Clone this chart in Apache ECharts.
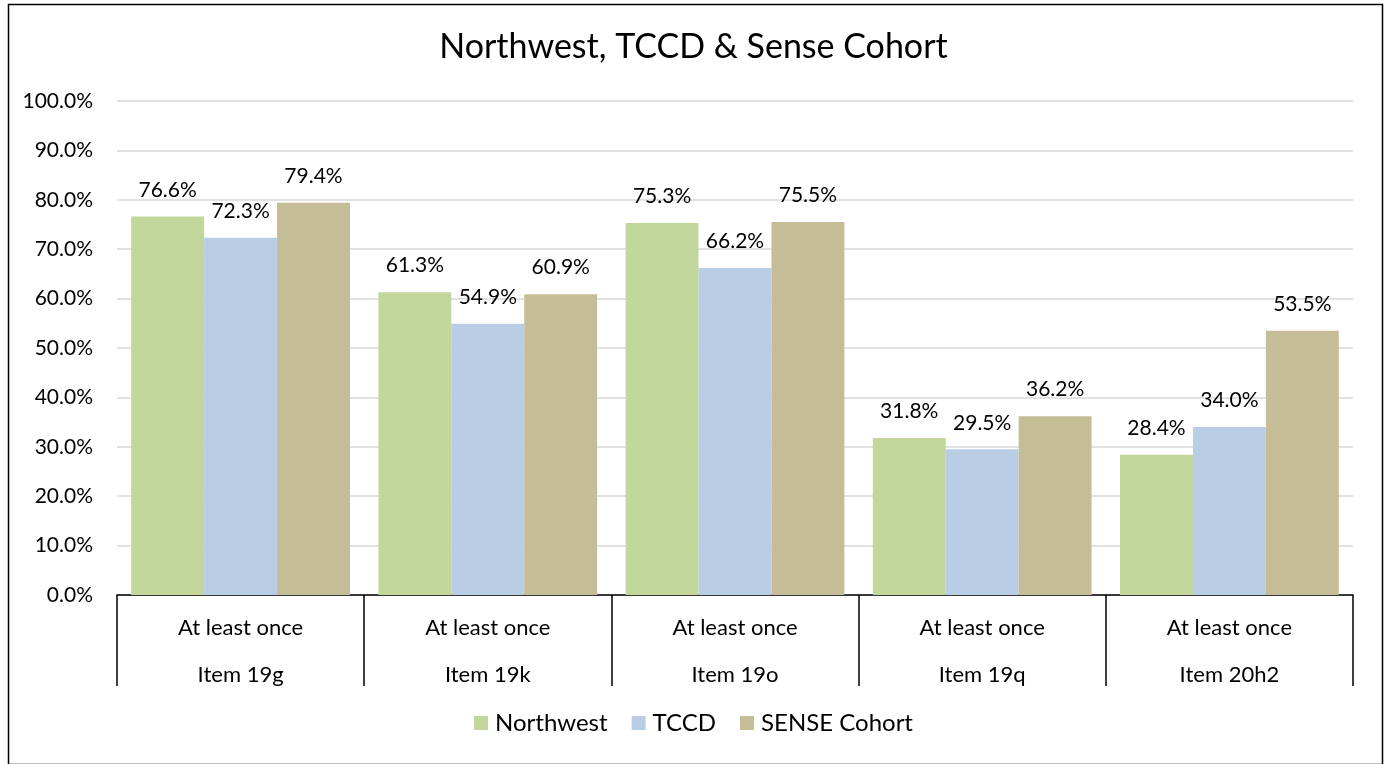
<!DOCTYPE html>
<html>
<head>
<meta charset="utf-8">
<script src="https://cdn.jsdelivr.net/npm/echarts@6/dist/echarts.min.js"></script>
<style>
html,body{margin:0;padding:0;background:#fff;}
#chart{width:1387px;height:764px;}
</style>
</head>
<body>
<div id="chart"></div>
<script>
const titleText = "Northwest, TCCD & Sense Cohort";
const rowLabels1 = ["At least once", "At least once", "At least once", "At least once", "At least once"];
const rowLabels2 = ["Item 19g", "Item 19k", "Item 19o", "Item 19q", "Item 20h2"];
const seriesNames = ["Northwest", "TCCD", "SENSE Cohort"];
const northwest = [76.6, 61.3, 75.3, 31.8, 28.4];
const tccd = [72.3, 54.9, 66.2, 29.5, 34.0];
const sense = [79.4, 60.9, 75.5, 36.2, 53.5];
const colors = ["#c3d69b", "#b9cde5", "#c4bd97"];

const FONT = "Lato";
const chart = echarts.init(document.getElementById('chart'));
const categories = rowLabels2.map((r, i) => rowLabels1[i] + "|" + r);
const values = [northwest, tccd, sense];

chart.setOption({
  animation: false,
  textStyle: { fontFamily: FONT },
  title: {
    text: titleText, left: 'center', top: 25,
    textStyle: { fontFamily: FONT, fontWeight: 'normal', fontSize: 34, color: '#000' }
  },
  legend: {
    bottom: 24, left: 'center', itemWidth: 14, itemHeight: 14, itemGap: 24,
    icon: 'rect',
    textStyle: { fontFamily: FONT, fontSize: 24, color: '#000', padding: [0, 0, 0, 2] },
    data: seriesNames
  },
  grid: { left: 117, right: 34, top: 101, bottom: 169, containLabel: false },
  xAxis: {
    type: 'category',
    data: categories,
    axisLine: { lineStyle: { color: '#000', width: 1.5 } },
    axisTick: { show: true, length: 91, interval: 0, lineStyle: { color: '#000', width: 1.5 } },
    axisLabel: {
      interval: 0, margin: 9,
      formatter: v => { const p = v.split('|'); return '{a|' + p[0] + '}\n{b|' + p[1] + '}'; },
      rich: {
        a: { fontFamily: FONT, fontSize: 22, color: '#000', lineHeight: 47 },
        b: { fontFamily: FONT, fontSize: 22, color: '#000', lineHeight: 47 }
      }
    }
  },
  yAxis: {
    type: 'value', min: 0, max: 100, interval: 10,
    axisLine: { show: false }, axisTick: { show: false },
    axisLabel: { formatter: v => v.toFixed(1) + '%', fontFamily: FONT, fontSize: 21, color: '#000', margin: 24 },
    splitLine: { lineStyle: { color: '#d9d9d9', width: 1.5 } }
  },
  series: seriesNames.map((n, i) => ({
    name: n, type: 'bar', data: values[i],
    barGap: '0%', barCategoryGap: '11.5%',
    itemStyle: { color: colors[i] },
    label: {
      show: true, position: 'top', distance: 16,
      formatter: p => p.value.toFixed(1) + '%',
      fontFamily: FONT, fontSize: 21, color: '#000'
    }
  })),
  graphic: [{
    type: 'rect', left: 6, top: 2,
    shape: { width: 1374, height: 760 },
    style: { fill: 'none', stroke: '#000', lineWidth: 1.5 },
    silent: true
  }]
});
</script>
</body>
</html>
